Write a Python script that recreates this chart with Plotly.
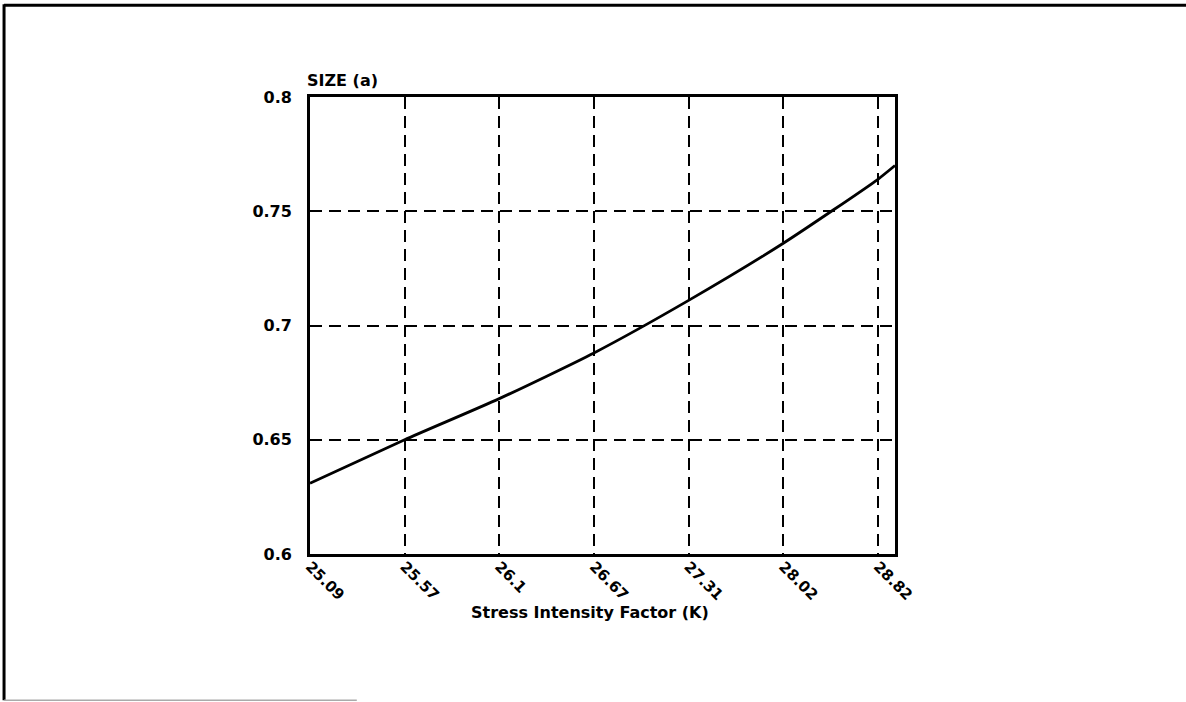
import plotly.graph_objects as go

# Stress intensity factor categories (equally spaced on the axis)
k_labels = ["25.09", "25.57", "26.1", "26.67", "27.31", "28.02", "28.82"]
k_positions = [0, 1, 2, 3, 4, 5, 6]

# Crack size at each category, plus the value where the curve meets the right frame
size_values = [0.631, 0.650, 0.668, 0.688, 0.711, 0.736, 0.764]
curve_end_pos = 6.18
curve_end_size = 0.770

y_ticks = [0.6, 0.65, 0.7, 0.75, 0.8]
y_tick_text = ["0.6", "0.65", "0.7", "0.75", "0.8"]

font_family = "DejaVu Sans, Verdana, sans-serif"
label_font = dict(family=font_family, size=16, color="black", weight="bold")

fig = go.Figure()
fig.add_trace(go.Scatter(
    x=k_positions + [curve_end_pos],
    y=size_values + [curve_end_size],
    mode="lines",
    line=dict(color="black", width=2.8, shape="spline", smoothing=0.6),
    hoverinfo="skip",
    showlegend=False,
))

axis_common = dict(
    showline=True,
    linecolor="black",
    linewidth=2.8,
    mirror=True,
    showgrid=True,
    gridcolor="black",
    gridwidth=2.4,
    griddash="12px,7px",
    zeroline=False,
    ticks="",
)

fig.update_xaxes(
    range=[0, curve_end_pos],
    tickmode="array",
    tickvals=k_positions,
    ticktext=k_labels,
    tickangle=45,
    ticklabelstandoff=-5,
    tickfont=dict(family=font_family, size=15, color="black", weight="bold"),
    **axis_common,
)
fig.update_yaxes(
    range=[0.6, 0.8],
    tickmode="array",
    tickvals=y_ticks,
    ticktext=y_tick_text,
    ticklabelstandoff=12,
    tickfont=label_font,
    **axis_common,
)

fig.add_annotation(
    text="SIZE (a)", xref="paper", yref="paper", x=-0.008, y=1.01,
    xanchor="left", yanchor="bottom", showarrow=False,
    font=label_font,
)
fig.add_annotation(
    text="Stress Intensity Factor (K)", xref="paper", yref="paper", x=0.478, y=-0.128,
    xanchor="center", yanchor="middle", showarrow=False,
    font=label_font,
)

# Page frame: top and left edges, faint bottom edge
fig.add_shape(type="line", xref="paper", yref="paper",
              x0=-0.523, x1=1.5, y0=1.201, y1=1.201,
              line=dict(color="black", width=3))
fig.add_shape(type="line", xref="paper", yref="paper",
              x0=-0.523, x1=-0.523, y0=1.203, y1=-0.32,
              line=dict(color="black", width=3))
fig.add_shape(type="line", xref="paper", yref="paper",
              x0=-0.523, x1=0.08, y0=-0.32, y1=-0.32,
              line=dict(color="#aaaaaa", width=1.5))

fig.update_layout(
    width=1186,
    height=702,
    margin=dict(l=310, r=291, t=97, b=148),
    paper_bgcolor="white",
    plot_bgcolor="white",
    showlegend=False,
)

fig.write_html("out.html")
